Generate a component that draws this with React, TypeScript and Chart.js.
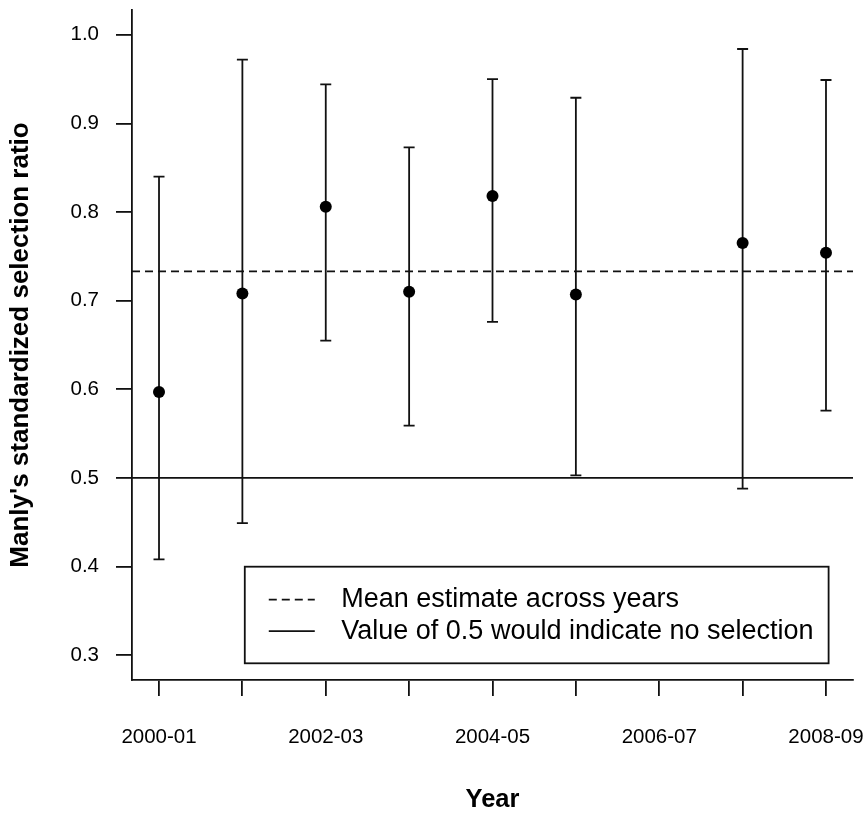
import React, { useEffect, useRef } from "react";
import { Chart, registerables } from "chart.js";

Chart.register(...registerables);

const YEARS = ["2000-01", "2001-02", "2002-03", "2003-04", "2004-05", "2005-06", "2006-07", "2007-08", "2008-09"];
const SHOWN_YEAR_LABELS = ["2000-01", "2002-03", "2004-05", "2006-07", "2008-09"];
const ESTIMATE: (number | null)[] = [0.597, 0.708, 0.806, 0.71, 0.818, 0.707, null, 0.765, 0.754];
const LOWER: (number | null)[] = [0.408, 0.449, 0.655, 0.559, 0.676, 0.503, null, 0.488, 0.576];
const UPPER: (number | null)[] = [0.84, 0.972, 0.944, 0.873, 0.95, 0.929, null, 0.984, 0.949];
const MEAN_ESTIMATE = 0.733;
const NO_SELECTION = 0.5;
const Y_TICKS = [0.3, 0.4, 0.5, 0.6, 0.7, 0.8, 0.9, 1.0];
const LEGEND_LABELS = ["Mean estimate across years", "Value of 0.5 would indicate no selection"];
const X_TITLE = "Year";
const Y_TITLE = "Manly's standardized selection ratio";

const FONT = "'Liberation Sans', Arial, Helvetica, sans-serif";
const DASH = [8, 5];

const linesPlugin = {
  id: "refLinesAndErrorBars",
  beforeDatasetsDraw(chart: any) {
    const { ctx, chartArea, scales } = chart;
    const x = scales.x;
    const y = scales.y;
    ctx.save();
    ctx.strokeStyle = "#111";
    // reference lines
    ctx.lineWidth = 1.7;
    ctx.setLineDash(DASH);
    const ym = y.getPixelForValue(MEAN_ESTIMATE);
    ctx.beginPath();
    ctx.moveTo(chartArea.left, ym);
    ctx.lineTo(chartArea.right, ym);
    ctx.stroke();
    ctx.setLineDash([]);
    const y5 = y.getPixelForValue(NO_SELECTION);
    ctx.beginPath();
    ctx.moveTo(chartArea.left, y5);
    ctx.lineTo(chartArea.right, y5);
    ctx.stroke();
    // error bars
    ctx.lineWidth = 1.8;
    const cap = 5.5;
    YEARS.forEach((_, i) => {
      const lo = LOWER[i];
      const hi = UPPER[i];
      if (lo == null || hi == null) return;
      const px = x.getPixelForValue(i);
      const pl = y.getPixelForValue(lo);
      const ph = y.getPixelForValue(hi);
      ctx.beginPath();
      ctx.moveTo(px, pl);
      ctx.lineTo(px, ph);
      ctx.moveTo(px - cap, pl);
      ctx.lineTo(px + cap, pl);
      ctx.moveTo(px - cap, ph);
      ctx.lineTo(px + cap, ph);
      ctx.stroke();
    });
    ctx.restore();
  },
};

const legendPlugin = {
  id: "rStyleLegend",
  afterDraw(chart: any) {
    const { ctx, chartArea } = chart;
    ctx.save();
    ctx.font = `27px ${FONT}`;
    const textW = Math.max(...LEGEND_LABELS.map((t) => ctx.measureText(t).width));
    const right = chartArea.right - 24.4;
    const bottom = chartArea.bottom - 16.7;
    const boxW = 24 + 46 + 26.5 + textW + 15;
    const boxH = 96.6;
    const left = right - boxW;
    const top = bottom - boxH;
    ctx.fillStyle = "#fff";
    ctx.fillRect(left, top, boxW, boxH);
    ctx.strokeStyle = "#111";
    ctx.lineWidth = 1.8;
    ctx.strokeRect(left, top, boxW, boxH);
    const rows = [top + 33, top + 64.5];
    ctx.lineWidth = 1.7;
    rows.forEach((ry, i) => {
      ctx.setLineDash(i === 0 ? DASH : []);
      ctx.beginPath();
      ctx.moveTo(left + 24, ry);
      ctx.lineTo(left + 70, ry);
      ctx.stroke();
    });
    ctx.setLineDash([]);
    ctx.fillStyle = "#000";
    ctx.textAlign = "left";
    ctx.textBaseline = "middle";
    rows.forEach((ry, i) => {
      ctx.fillText(LEGEND_LABELS[i], left + 96.5, ry);
    });
    ctx.restore();
  },
};

export default function App() {
  const ref = useRef<HTMLCanvasElement | null>(null);

  useEffect(() => {
    if (!ref.current) return;
    const points = YEARS.map((_, i) => ({ x: i, y: ESTIMATE[i] })).filter((p) => p.y != null);
    const chart = new Chart(ref.current, {
      type: "scatter",
      data: {
        datasets: [
          {
            label: "Estimate",
            data: points as any,
            backgroundColor: "#000",
            borderColor: "#000",
            borderWidth: 0,
            pointRadius: 6,
            pointHoverRadius: 6,
          },
        ],
      },
      options: {
        animation: false,
        responsive: false,
        devicePixelRatio: 1,
        layout: { padding: { top: 10, right: 10, left: 0, bottom: 0 } },
        plugins: {
          legend: { display: false },
          tooltip: { enabled: false },
        },
        scales: {
          x: {
            type: "linear",
            min: -0.324,
            max: 8.324,
            afterBuildTicks: (scale: any) => {
              scale.ticks = YEARS.map((_, i) => ({ value: i }));
            },
            afterFit: (scale: any) => {
              scale.height = 133;
              scale.paddingLeft = 0;
              scale.paddingRight = 0;
            },
            ticks: {
              autoSkip: false,
              maxRotation: 0,
              minRotation: 0,
              padding: 29,
              color: "#000",
              font: { family: FONT, size: 20.5 },
              callback: (v: any) => {
                const lbl = YEARS[Math.round(Number(v))];
                return SHOWN_YEAR_LABELS.includes(lbl) ? lbl : "";
              },
            },
            grid: {
              drawOnChartArea: false,
              drawTicks: true,
              tickLength: 16,
              color: "#111",
              lineWidth: 1.8,
            },
            border: { display: true, color: "#111", width: 1.8 },
            title: {
              display: true,
              text: X_TITLE,
              color: "#000",
              font: { family: FONT, size: 25.5, weight: "bold", lineHeight: 1 },
              padding: { top: 0, bottom: 0 },
            },
          },
          y: {
            type: "linear",
            min: 0.272,
            max: 1.028,
            afterBuildTicks: (scale: any) => {
              scale.ticks = Y_TICKS.map((v) => ({ value: v }));
            },
            afterFit: (scale: any) => {
              scale.width = 132;
              scale.paddingTop = 0;
              scale.paddingBottom = 0;
            },
            ticks: {
              autoSkip: false,
              padding: 17,
              color: "#000",
              font: { family: FONT, size: 20.5 },
              callback: (v: any) => Number(v).toFixed(1),
            },
            grid: {
              drawOnChartArea: false,
              drawTicks: true,
              tickLength: 16,
              color: "#111",
              lineWidth: 1.8,
            },
            border: { display: true, color: "#111", width: 1.8 },
            title: {
              display: true,
              text: Y_TITLE,
              color: "#000",
              font: { family: FONT, size: 26, weight: "bold", lineHeight: 1 },
              padding: { top: 7.5, bottom: 0 },
            },
          },
        },
      },
      plugins: [linesPlugin, legendPlugin],
    });
    return () => chart.destroy();
  }, []);

  return (
    <div style={{ position: "fixed", left: 0, top: 0, width: 863, height: 813, background: "#fff" }}>
      <canvas ref={ref} width={863} height={813} style={{ display: "block" }} />
    </div>
  );
}
